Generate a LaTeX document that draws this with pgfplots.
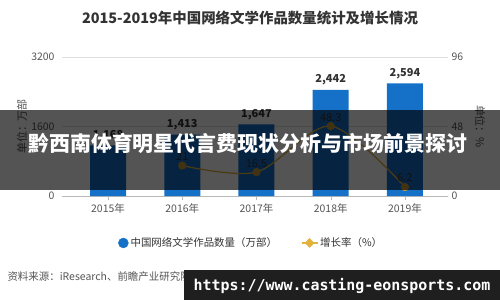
\documentclass[border=0pt]{standalone}
\usepackage{fontspec}
\setmainfont{Noto Sans CJK SC}
\newfontfamily\monofont{DejaVu Sans Mono}
\usepackage{pgfplots}
\usepackage{pgfplotstable}
\pgfplotsset{compat=1.18}
\definecolor{barblue}{HTML}{1570C8}
\definecolor{gold}{HTML}{E3B23C}
\definecolor{golddark}{HTML}{C89A35}
\definecolor{txt}{HTML}{333333}
\definecolor{ticktxt}{HTML}{555555}

\pgfplotstableread{
x val
0 1168
1 1413
2 1647
3 2442
4 2594
}\booktable
\pgfplotstableread{
x rate
1 21
2 16.5
3 48.3
4 6.2
}\ratetable

\begin{document}
\begin{tikzpicture}[x=1bp,y=1bp]
\useasboundingbox (0,0) rectangle (500,300);
\fill[white] (0,0) rectangle (500,300);
\node[font=\fontsize{14.5}{17}\selectfont\bfseries, text=txt] at (250,282) {2015-2019年中国网络文学作品数量统计及增长情况};

\begin{axis}[
  at={(62bp,104bp)}, anchor=south west,
  width=386bp, height=139bp, scale only axis,
  xmin=-0.62, xmax=4.58, ymin=0, ymax=3200,
  ytick={0,1600,3200},
  xtick={0,1,2,3,4},
  xticklabels={2015年,2016年,2017年,2018年,2019年},
  axis y line*=left, axis x line*=bottom,
  axis line style={-},
  y axis line style={draw=none},
  x axis line style={draw=gray!55},
  ymajorgrids, grid style={draw=gray!25},
  major tick length=4bp,
  ytick style={draw=none},
  xtick style={draw=gray!55},
  tick align=outside,
  ticklabel style={font=\fontsize{10.5}{12}\selectfont, text=ticktxt},
  /pgf/number format/assume math mode=true,
  scaled y ticks=false,
  yticklabel style={/pgf/number format/fixed, /pgf/number format/1000 sep={}},
  ylabel={单位：万部},
  ylabel style={at={(axis description cs:-0.104,0.5)}, anchor=center, font=\fontsize{11}{13}\selectfont, text=ticktxt},
]
\addplot[ybar, bar width=36bp, fill=barblue, draw=none,
  nodes near coords,
  nodes near coords style={font=\bfseries\fontsize{11}{13}\selectfont, text=txt, /pgf/number format/1000 sep={,}, yshift=1bp}]
  table[x=x,y=val]{\booktable};
\end{axis}

\begin{axis}[
  at={(62bp,104bp)}, anchor=south west,
  width=386bp, height=139bp, scale only axis,
  xmin=-0.62, xmax=4.58, ymin=0, ymax=96,
  ytick={0,48,96},
  axis x line=none,
  axis y line*=right,
  axis line style={-},
  y axis line style={draw=none},
  ytick style={draw=none},
  ticklabel style={font=\fontsize{10.5}{12}\selectfont, text=ticktxt},
  /pgf/number format/assume math mode=true,
  ylabel={单位：\%},
  ylabel style={at={(axis description cs:1.083,0.5)}, anchor=center, rotate=180, font=\fontsize{11}{13}\selectfont, text=ticktxt},
  legend style={at={(0.49,-0.338)}, anchor=center, draw=none, fill=none,
    legend columns=2, font=\fontsize{10.5}{12}\selectfont, text=txt,
    /tikz/every even column/.append style={column sep=22bp}},
]
\addlegendimage{legend image code/.code={\fill[barblue] (6bp,0) circle (5bp);}}
\addlegendentry{中国网络文学作品数量（万部）}
\addplot[smooth, color=gold, line width=1.2bp, mark=*, mark size=3.5bp,
  mark options={fill=golddark, draw=golddark},
  legend image code/.code={\draw[gold, line width=1.2bp] (0,0) -- (16bp,0);
     \fill[gold] (8bp,4bp) -- (12bp,0) -- (8bp,-4bp) -- (4bp,0) -- cycle;},
  nodes near coords,
  nodes near coords style={font=\fontsize{11}{13}\selectfont, text=txt, yshift=1bp}]
  table[x=x,y=rate]{\ratetable};
\addlegendentry{增长率（\%）}
\end{axis}

\node[anchor=west, text=ticktxt, font=\fontsize{10.5}{12}\selectfont] at (4,23) {资料来源：iResearch、前瞻产业研究院整理};
\node[anchor=east, text=gray!60, font=\fontsize{10.5}{12}\selectfont] at (500,23) {@前瞻经济学人APP};

% overlays present in the reference image
\fill[black, opacity=0.67] (0,110) rectangle (500,190);
\node[text=white, font=\bfseries\fontsize{21}{25}\selectfont] at (248,157) {黔西南体育明星代言费现状分析与市场前景探讨};
\fill[black!88] (184,0) rectangle (500,30);
\node[text=white, font=\monofont\bfseries\fontsize{15}{18}\selectfont] at (342,14) {https://www.casting-eonsports.com};
\end{tikzpicture}
\end{document}
